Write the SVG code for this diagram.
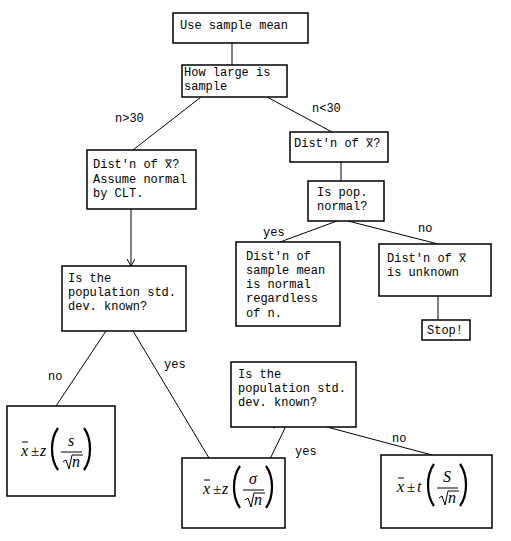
<svg xmlns="http://www.w3.org/2000/svg" xmlns:xlink="http://www.w3.org/1999/xlink" width="511" height="541" viewBox="0 0 511 541">
<style>
  .box { fill: #fff; stroke: #000; stroke-width: 1.5; }
  .t { font-family: "Liberation Mono", "Courier New", monospace; font-size: 12px; fill: #000; }
  .c { stroke: #000; stroke-width: 1; fill: none; }
  .fm { font-family: "Liberation Serif", "Times New Roman", serif; font-style: italic; font-size: 16px; fill: #000; }
  .fs { font-family: "Liberation Serif", "Times New Roman", serif; font-size: 15px; fill: #000; }
  .ol { stroke: #000; stroke-width: 1; }
</style>
<defs>
  <marker id="vee" markerUnits="userSpaceOnUse" markerWidth="10" markerHeight="10" refX="8" refY="4" orient="auto" viewBox="0 0 10 10">
    <path d="M1,0 L8,4 L1,8" fill="none" stroke="#000" stroke-width="1"/>
  </marker>
  <g id="fframe">
    <line x1="1" y1="-10" x2="7" y2="-10" stroke="#000" stroke-width="1"/>
    <path d="M37,-24 C29,-13 29,7 37,18" fill="none" stroke="#000" stroke-width="2.2"/>
    <path d="M63,-24 C71,-13 71,7 63,18" fill="none" stroke="#000" stroke-width="2.2"/>
    <line x1="40" y1="0" x2="61" y2="0" stroke="#000" stroke-width="1"/>
    <path d="M42,10 L45,8 L48,17 L51,3 L62,3" fill="none" stroke="#000" stroke-width="1"/>
  </g>
</defs>
<rect width="511" height="541" fill="#fff"/>

<g id="connectors">
  <line class="c" x1="232" y1="43" x2="232" y2="65"/>
  <line class="c" x1="201" y1="97" x2="133" y2="150"/>
  <line class="c" x1="267" y1="97" x2="332" y2="132"/>
  <line class="c" x1="341" y1="162" x2="341" y2="181"/>
  <line class="c" x1="337" y1="221" x2="280" y2="242"/>
  <line class="c" x1="348" y1="221" x2="438" y2="244"/>
  <line class="c" x1="438" y1="296" x2="438" y2="320"/>
  <line class="c" x1="131" y1="209" x2="131" y2="266" marker-end="url(#vee)"/>
  <line class="c" x1="106" y1="331" x2="56" y2="406"/>
  <line class="c" x1="133" y1="331" x2="209" y2="458"/>
  <path class="c" d="M273,428 Q279,424 285,428 L270,459"/>
  <line class="c" x1="327" y1="427" x2="432" y2="455"/>
  <text class="t" x="115" y="122">n&gt;30</text>
  <text class="t" x="312" y="112">n&lt;30</text>
  <text class="t" x="263" y="236">yes</text>
  <text class="t" x="418" y="232">no</text>
  <text class="t" x="48" y="380">no</text>
  <text class="t" x="164" y="368">yes</text>
  <text class="t" x="295" y="455">yes</text>
  <text class="t" x="392" y="442">no</text>
</g>

<g id="n-use-mean">
  <rect class="box" x="173" y="13" width="135" height="30"/>
  <text class="t" x="180" y="29">Use sample mean</text>
</g>

<g id="n-how-large">
  <rect class="box" x="182" y="65" width="105" height="32"/>
  <text class="t" x="184" y="76">How large is</text>
  <text class="t" x="184" y="90">sample</text>
</g>

<g id="n-clt">
  <rect class="box" x="87" y="150" width="109" height="59"/>
  <text class="t" x="93" y="168">Dist'n of x?</text>
  <line class="ol" x1="165" y1="160" x2="172" y2="160"/>
  <text class="t" x="93" y="183">Assume normal</text>
  <text class="t" x="93" y="197">by CLT.</text>
</g>

<g id="n-dist-small">
  <rect class="box" x="290" y="132" width="98" height="30"/>
  <text class="t" x="294" y="147">Dist'n of x?</text>
  <line class="ol" x1="366" y1="139" x2="373" y2="139"/>
</g>

<g id="n-pop-normal">
  <rect class="box" x="308" y="181" width="76" height="40"/>
  <text class="t" x="317" y="196">Is pop.</text>
  <text class="t" x="317" y="210">normal?</text>
</g>

<g id="n-normal">
  <rect class="box" x="236" y="242" width="104" height="84"/>
  <text class="t" x="246" y="260">Dist'n of</text>
  <text class="t" x="246" y="274">sample mean</text>
  <text class="t" x="246" y="288">is normal</text>
  <text class="t" x="246" y="302">regardless</text>
  <text class="t" x="246" y="317">of n.</text>
</g>

<g id="n-unknown">
  <rect class="box" x="379" y="244" width="112" height="52"/>
  <text class="t" x="387" y="262">Dist'n of x</text>
  <line class="ol" x1="459" y1="254" x2="466" y2="254"/>
  <text class="t" x="387" y="276">is unknown</text>
</g>

<g id="n-stop">
  <rect class="box" x="422" y="320" width="48" height="20"/>
  <text class="t" x="427" y="334">Stop!</text>
</g>

<g id="n-sd-known-1">
  <rect class="box" x="62" y="266" width="124" height="65"/>
  <text class="t" x="68" y="282">Is the</text>
  <text class="t" x="68" y="296">population std.</text>
  <text class="t" x="68" y="310">dev. known?</text>
</g>

<g id="n-sd-known-2">
  <rect class="box" x="231" y="362" width="125" height="65"/>
  <text class="t" x="238" y="378">Is the</text>
  <text class="t" x="238" y="392">population std.</text>
  <text class="t" x="238" y="406">dev. known?</text>
</g>

<g id="n-z-s">
  <rect class="box" x="7" y="406" width="108" height="90"/>
  <g transform="translate(21,452)">
    <use xlink:href="#fframe" href="#fframe"/>
    <text class="fm" x="0" y="4">x</text>
    <text class="fs" x="10" y="4">±</text>
    <text class="fm" x="19" y="4">z</text>
    <text class="fm" x="50" y="-6" text-anchor="middle">s</text>
    <text class="fm" x="51" y="15">n</text>
  </g>
</g>

<g id="n-z-sigma">
  <rect class="box" x="182" y="458" width="103" height="70"/>
  <g transform="translate(203,490)">
    <use xlink:href="#fframe" href="#fframe"/>
    <text class="fm" x="0" y="4">x</text>
    <text class="fs" x="10" y="4">±</text>
    <text class="fm" x="19" y="4">z</text>
    <text class="fm" x="50" y="-6" text-anchor="middle">σ</text>
    <text class="fm" x="51" y="15">n</text>
  </g>
</g>

<g id="n-t-s">
  <rect class="box" x="381" y="455" width="111" height="73"/>
  <g transform="translate(397,488)">
    <use xlink:href="#fframe" href="#fframe"/>
    <text class="fm" x="0" y="4">x</text>
    <text class="fs" x="10" y="4">±</text>
    <text class="fm" x="20" y="4">t</text>
    <text class="fm" x="50" y="-6" text-anchor="middle">S</text>
    <text class="fm" x="51" y="15">n</text>
  </g>
</g>
</svg>
